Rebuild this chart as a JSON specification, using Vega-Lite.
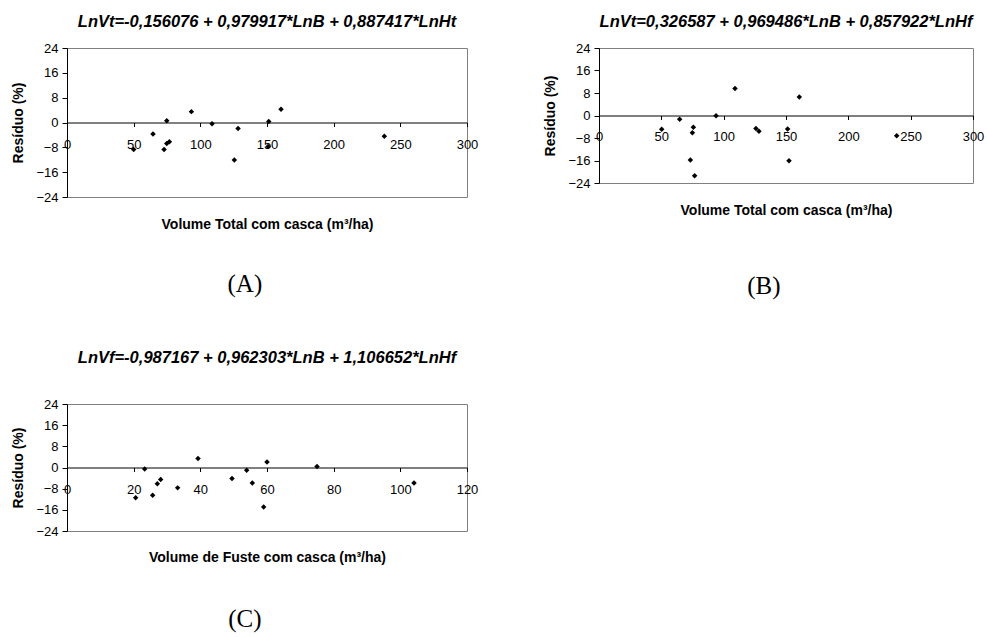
{
  "$schema": "https://vega.github.io/schema/vega-lite/v6.json",
  "background": "white",
  "padding": {"left": 11, "top": 13, "right": 2, "bottom": 2},
  "config": {
    "font": "Liberation Sans",
    "view": {"stroke": "#808080", "strokeWidth": 1},
    "axis": {"grid": false, "domainColor": "black", "tickColor": "black", "labelColor": "black", "titleColor": "black", "labelFont": "Liberation Sans", "titleFont": "Liberation Sans", "labelFontSize": 13, "titleFontSize": 14, "titleFontWeight": "bold", "labelOverlap": false, "labelFlush": false, "labelBound": false, "tickSize": 5},
    "title": {"font": "Liberation Sans", "fontSize": 16.5, "fontWeight": "bold", "fontStyle": "italic", "color": "black", "anchor": "middle"}
  },
  "datasets": {
    "A": [
      {"v": 50, "r": -8.7}, {"v": 64.5, "r": -3.7}, {"v": 72.8, "r": -8.7}, {"v": 74.8, "r": 0.6},
      {"v": 74.8, "r": -6.8}, {"v": 76.8, "r": -6.2}, {"v": 93.3, "r": 3.5}, {"v": 108.8, "r": -0.4},
      {"v": 125.5, "r": -12.1}, {"v": 128.3, "r": -1.9}, {"v": 150.8, "r": -7.7}, {"v": 151.3, "r": 0.3},
      {"v": 160.5, "r": 4.3}, {"v": 238, "r": -4.4}
    ],
    "B": [
      {"v": 50.3, "r": -4.9}, {"v": 64.7, "r": -1.3}, {"v": 75.7, "r": -4.2}, {"v": 74.9, "r": -6.1},
      {"v": 73.3, "r": -15.8}, {"v": 76.7, "r": -21.4}, {"v": 93.9, "r": -0.1}, {"v": 109.1, "r": 9.6},
      {"v": 125.9, "r": -4.6}, {"v": 128.3, "r": -5.6}, {"v": 151.3, "r": -4.8}, {"v": 152.4, "r": -16.1},
      {"v": 160.7, "r": 6.6}, {"v": 238.8, "r": -7.2}
    ],
    "C": [
      {"v": 20.6, "r": -11.4}, {"v": 23.3, "r": -0.6}, {"v": 25.7, "r": -10.5}, {"v": 27.1, "r": -6.1},
      {"v": 28.1, "r": -4.5}, {"v": 33.2, "r": -7.7}, {"v": 39.3, "r": 3.4}, {"v": 49.5, "r": -4.2},
      {"v": 53.9, "r": -1.0}, {"v": 55.6, "r": -5.9}, {"v": 59.0, "r": -14.9}, {"v": 60.0, "r": 2.1},
      {"v": 75.0, "r": 0.4}, {"v": 104.1, "r": -5.9}
    ]
  },
  "spacing": 50,
  "vconcat": [
    {
      "spacing": 64,
      "hconcat": [
        {
          "title": {"text": "(A)", "orient": "bottom", "font": "Liberation Serif", "fontSize": 25, "fontWeight": "normal", "fontStyle": "normal", "offset": 40},
          "vconcat": [
            {
              "width": 400, "height": 149,
              "title": {"text": "LnVt=-0,156076 + 0,979917*LnB + 0,887417*LnHt", "offset": 12},
              "data": {"name": "A"},
              "mark": {"type": "point", "shape": "diamond", "filled": true, "color": "black", "size": 30, "opacity": 1},
              "encoding": {
                "x": {"field": "v", "type": "quantitative", "scale": {"domain": [0, 300], "nice": false, "zero": false},
                  "axis": {"title": "Volume Total com casca (m³/ha)", "orient": "bottom", "offset": -74.5, "values": [0, 50, 100, 150, 200, 250, 300], "tickSize": 4, "labelPadding": 12, "titlePadding": 66}},
                "y": {"field": "r", "type": "quantitative", "scale": {"domain": [-24, 24], "nice": false},
                  "axis": {"title": "Resíduo (%)", "values": [-24, -16, -8, 0, 8, 16, 24], "labelPadding": 4, "titlePadding": 10}}
              }
            }
          ]
        },
        {
          "title": {"text": "(B)", "orient": "bottom", "font": "Liberation Serif", "fontSize": 25, "fontWeight": "normal", "fontStyle": "normal", "offset": 56},
          "vconcat": [
            {
              "width": 374, "height": 135,
              "title": {"text": "LnVt=0,326587 + 0,969486*LnB + 0,857922*LnHf", "offset": 12, "frame": "group", "fontSize": 16.5},
              "data": {"name": "B"},
              "mark": {"type": "point", "shape": "diamond", "filled": true, "color": "black", "size": 30, "opacity": 1},
              "encoding": {
                "x": {"field": "v", "type": "quantitative", "scale": {"domain": [0, 300], "nice": false, "zero": false},
                  "axis": {"title": "Volume Total com casca (m³/ha)", "orient": "bottom", "offset": -67.5, "values": [0, 50, 100, 150, 200, 250, 300], "tickSize": 4, "labelPadding": 11, "titlePadding": 60}},
                "y": {"field": "r", "type": "quantitative", "scale": {"domain": [-24, 24], "nice": false},
                  "axis": {"title": "Resíduo (%)", "values": [-24, -16, -8, 0, 8, 16, 24], "labelPadding": 4, "titlePadding": 10}}
              }
            }
          ]
        }
      ]
    },
    {
      "title": {"text": "(C)", "orient": "bottom", "font": "Liberation Serif", "fontSize": 25, "fontWeight": "normal", "fontStyle": "normal", "offset": 42},
      "vconcat": [
        {
          "width": 400, "height": 127,
          "title": {"text": "LnVf=-0,987167 + 0,962303*LnB + 1,106652*LnHf", "offset": 32},
          "data": {"name": "C"},
          "mark": {"type": "point", "shape": "diamond", "filled": true, "color": "black", "size": 30, "opacity": 1},
          "encoding": {
            "x": {"field": "v", "type": "quantitative", "scale": {"domain": [0, 120], "nice": false, "zero": false},
              "axis": {"title": "Volume de Fuste com casca (m³/ha)", "orient": "bottom", "offset": -63.5, "values": [0, 20, 40, 60, 80, 100, 120], "tickSize": 4, "labelPadding": 12, "titlePadding": 54}},
            "y": {"field": "r", "type": "quantitative", "scale": {"domain": [-24, 24], "nice": false},
              "axis": {"title": "Resíduo (%)", "values": [-24, -16, -8, 0, 8, 16, 24], "labelPadding": 4, "titlePadding": 10}}
          }
        }
      ]
    }
  ]
}
